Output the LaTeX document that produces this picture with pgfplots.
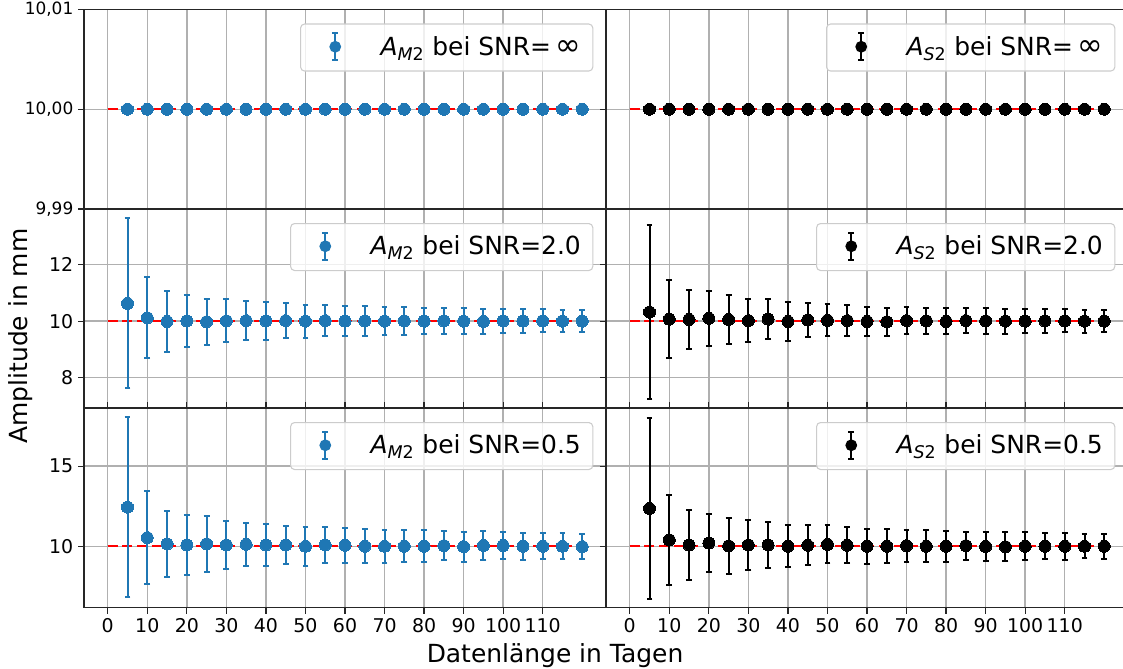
\documentclass[border=0pt]{standalone}
\usepackage{fontspec}
\setmainfont{DejaVu Sans}
\usepackage{pgfplots}
\usepackage{pgfplotstable}
\pgfplotsset{compat=1.18}
\definecolor{mblue}{RGB}{31,119,180}
\definecolor{gridgray}{RGB}{176,176,176}
\definecolor{legedge}{RGB}{204,204,204}

\pgfplotstableread{
x y e
5 10.63 3.01
10 10.12 1.43
15 9.99 1.09
20 10.01 0.93
25 9.98 0.82
30 10.01 0.76
35 10.02 0.70
40 10.01 0.66
45 10.02 0.61
50 10.00 0.58
55 10.02 0.56
60 10.00 0.54
65 10.01 0.52
70 10.00 0.50
75 10.01 0.49
80 10.00 0.47
85 10.01 0.46
90 10.00 0.45
95 9.99 0.44
100 10.01 0.43
105 10.00 0.42
110 10.01 0.41
115 10.00 0.40
120 10.00 0.39
}\mtwo

\pgfplotstableread{
x y e
5 10.32 3.09
10 10.07 1.39
15 10.06 1.06
20 10.10 0.98
25 10.06 0.85
30 10.02 0.75
35 10.07 0.70
40 9.99 0.68
45 10.04 0.60
50 10.03 0.57
55 10.02 0.55
60 9.99 0.52
65 9.98 0.49
70 10.02 0.48
75 10.01 0.47
80 9.99 0.46
85 10.02 0.45
90 10.01 0.45
95 10.00 0.44
100 10.00 0.43
105 10.01 0.42
110 10.01 0.41
115 10.00 0.41
120 10.00 0.40
}\stwo

\pgfplotstableread{
x y e
5 12.44 5.63
10 10.54 2.90
15 10.15 2.06
20 10.08 1.88
25 10.15 1.77
30 10.08 1.50
35 10.12 1.33
40 10.08 1.30
45 10.08 1.20
50 10.00 1.22
55 10.08 1.15
60 10.06 1.10
65 10.00 1.05
70 10.00 1.03
75 10.00 1.00
80 10.00 1.00
85 10.04 0.92
90 9.98 0.93
95 10.05 0.90
100 10.05 0.85
105 10.00 0.85
110 10.00 0.82
115 10.00 0.80
120 9.98 0.80
}\mhalf

\pgfplotstableread{
x y e
5 12.36 5.63
10 10.40 2.79
15 10.08 2.19
20 10.20 1.83
25 10.02 1.73
30 10.08 1.54
35 10.08 1.42
40 10.00 1.30
45 10.06 1.24
50 10.12 1.19
55 10.06 1.13
60 10.00 1.08
65 10.00 1.06
70 10.04 1.00
75 10.00 1.00
80 10.00 0.97
85 10.04 0.88
90 9.99 0.92
95 9.97 0.90
100 10.00 0.87
105 10.00 0.82
110 10.00 0.84
115 10.00 0.76
120 10.00 0.78
}\shalf

\pgfplotstableread{
x y
5 10
10 10
15 10
20 10
25 10
30 10
35 10
40 10
45 10
50 10
55 10
60 10
65 10
70 10
75 10
80 10
85 10
90 10
95 10
100 10
105 10
110 10
115 10
120 10
}\inf

\newcommand{\legfont}{\fontsize{18.7pt}{22pt}\selectfont}
\newcommand{\tickfont}{\fontsize{14.2pt}{16pt}\selectfont}
\newcommand{\smalltickfont}{\fontsize{12.7pt}{15pt}\selectfont}

\pgfplotsset{
  panel/.style={
    scale only axis, width=391.5pt, height=149.625pt,
    anchor=south west,
    xmin=-6, xmax=126,
    xtick={0,10,...,110},
    grid=major,
    major grid style={gridgray, line width=1.1pt},
    axis line style={line width=1pt, black!85},
    tick style={black!85, line width=1pt},
    tick align=outside,
    major tick length=4.5pt,
    ticklabel style={font=\tickfont},
    legend style={at={(1,1)}, anchor=north east, xshift=-9.5pt, yshift=-10.5pt,
      draw=legedge, line width=0.8pt, rounded corners=3pt,
      fill=white, fill opacity=0.8, draw opacity=1, text opacity=1,
      inner xsep=0pt, inner ysep=0pt,
      font=\legfont, nodes={inner sep=0pt, text height=14pt, text depth=4pt}},
    legend cell align=left,
  },
  nox/.style={xticklabels={}, xtick style={draw=none}},
  botx/.style={xticklabels={0,10,20,30,40,50,60,70,80,90,100,110}},
  noy/.style={yticklabels={}},
  refline/.style={red, dash pattern=on 7.5pt off 3.5pt, line width=1.8pt, forget plot},
  legimg/.style={legend image code/.code={
    \path[draw=none, fill=none] (-26pt,-17pt) rectangle (34pt,18.25pt);
    \begin{scope}[yshift=1.2pt, fill opacity=1, draw opacity=1, rounded corners=0pt]
      \draw[#1, line width=1.5pt] (0,-10pt) -- (0,10pt);
      \draw[#1, line width=1.5pt] (-2.2pt,-10pt) -- (2.2pt,-10pt) (-2.2pt,10pt) -- (2.2pt,10pt);
      \fill[#1] (0,0) circle (4pt);
    \end{scope}}},
  dots/.style={only marks, mark=*, mark size=4.5pt, color=#1,
    mark options={fill=#1, draw=#1, line width=0pt}},
  ebar/.style={only marks, mark=*, mark size=4.5pt, color=#1,
    mark options={fill=#1, draw=#1, line width=0pt},
    error bars/y dir=both, error bars/y explicit,
    error bars/error bar style={line width=1.5pt, color=#1},
    error bars/error mark options={rotate=90, mark size=2.2pt, line width=1.5pt, color=#1}},
}

\begin{document}
\begin{tikzpicture}
\useasboundingbox (0,0) rectangle (842.25pt,501pt);

% ---------- top row ----------
\begin{axis}[panel, nox, at={(63pt,344.25pt)},
  ymin=9.99, ymax=10.01, ytick={9.99,10,10.01},
  yticklabels={{9,99},{10,00},{10,01}},
  yticklabel style={font=\smalltickfont}]
\addplot[refline] coordinates {(0,10) (120,10)};
\addplot[legimg=mblue, dots=mblue] table[x=x, y=y] {\inf};
\addlegendentry{\textit{A}\textsubscript{\textit{M}2} bei SNR=\,{\fontsize{23pt}{22pt}\selectfont ∞}\hspace*{9pt}}
\end{axis}

\begin{axis}[panel, nox, noy, at={(454.5pt,344.25pt)},
  ymin=9.99, ymax=10.01, ytick={9.99,10,10.01}]
\addplot[refline] coordinates {(0,10) (120,10)};
\addplot[legimg=black, dots=black] table[x=x, y=y] {\inf};
\addlegendentry{\textit{A}\textsubscript{\textit{S}2} bei SNR=\,{\fontsize{23pt}{22pt}\selectfont ∞}\hspace*{9pt}}
\end{axis}

% ---------- middle row ----------
\begin{axis}[panel, nox, at={(63pt,194.625pt)},
  ymin=6.91, ymax=13.97, ytick={8,10,12}, yticklabels={8,10,12}]
\addplot[refline] coordinates {(0,10) (120,10)};
\addplot[legimg=mblue, ebar=mblue] table[x=x, y=y, y error=e] {\mtwo};
\addlegendentry{\textit{A}\textsubscript{\textit{M}2} bei SNR=2.0\hspace*{9pt}}
\end{axis}

\begin{axis}[panel, nox, noy, at={(454.5pt,194.625pt)},
  ymin=6.91, ymax=13.97, ytick={8,10,12}]
\addplot[refline] coordinates {(0,10) (120,10)};
\addplot[legimg=black, ebar=black] table[x=x, y=y, y error=e] {\stwo};
\addlegendentry{\textit{A}\textsubscript{\textit{S}2} bei SNR=2.0\hspace*{9pt}}
\end{axis}

% ---------- bottom row ----------
\begin{axis}[panel, botx, at={(63pt,45.375pt)},
  ymin=6.18, ymax=18.63, ytick={10,15}, yticklabels={10,15}]
\addplot[refline] coordinates {(0,10) (120,10)};
\addplot[legimg=mblue, ebar=mblue] table[x=x, y=y, y error=e] {\mhalf};
\addlegendentry{\textit{A}\textsubscript{\textit{M}2} bei SNR=0.5\hspace*{9pt}}
\end{axis}

\begin{axis}[panel, botx, noy, at={(454.5pt,45.375pt)},
  ymin=6.18, ymax=18.63, ytick={10,15}]
\addplot[refline] coordinates {(0,10) (120,10)};
\addplot[legimg=black, ebar=black] table[x=x, y=y, y error=e] {\shalf};
\addlegendentry{\textit{A}\textsubscript{\textit{S}2} bei SNR=0.5\hspace*{9pt}}
\end{axis}

\node[rotate=90, font=\legfont, anchor=center] at (15.75pt,249pt) {Amplitude in mm};
\node[font=\legfont, anchor=base] at (416.25pt,4.5pt) {Datenlänge in Tagen};
\end{tikzpicture}
\end{document}
